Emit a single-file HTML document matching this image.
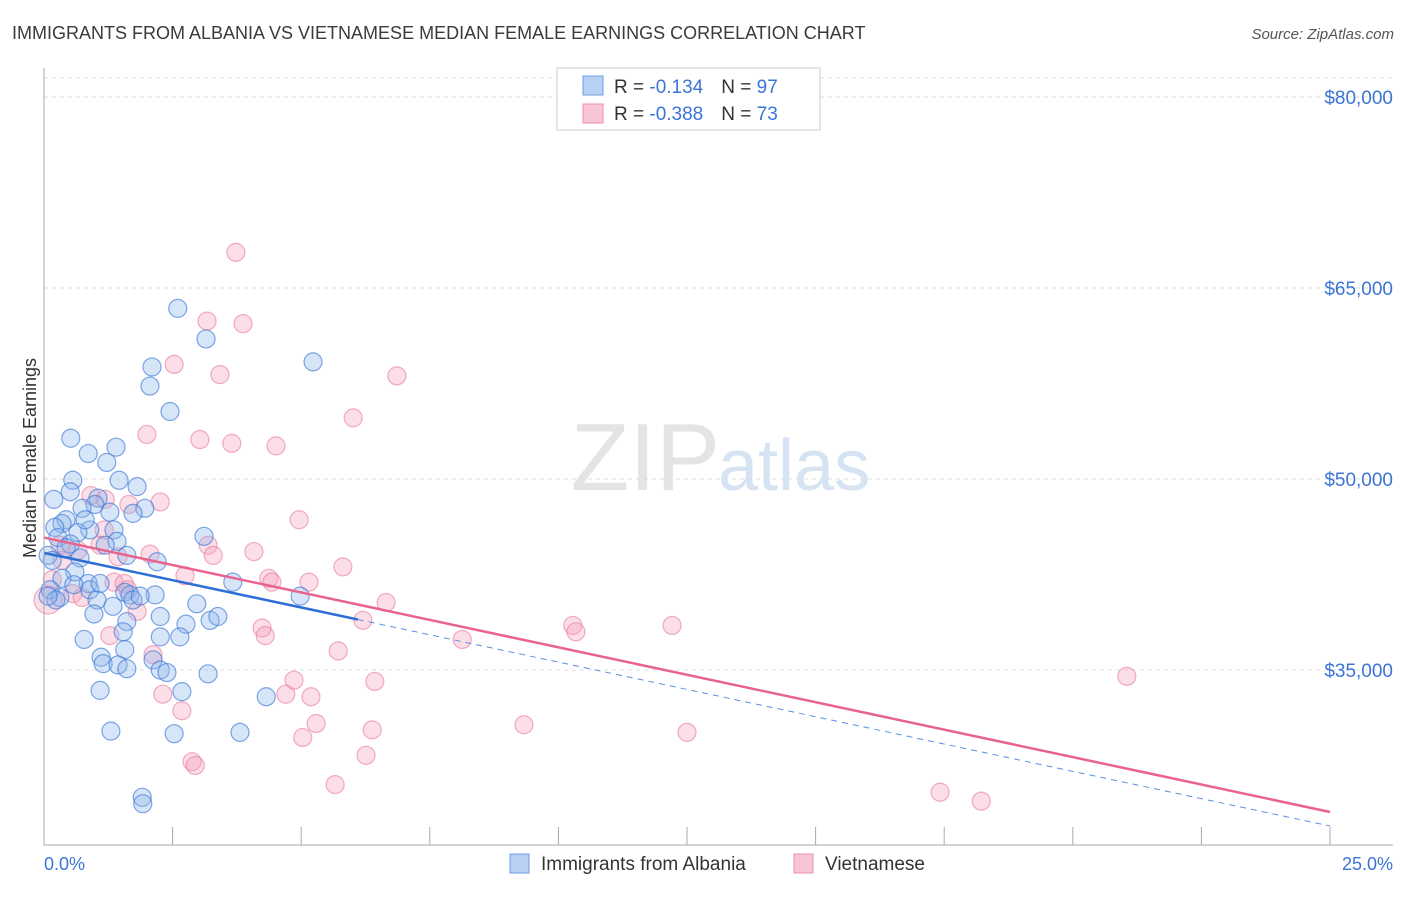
<!DOCTYPE html>
<html><head><meta charset="utf-8"><style>
body{margin:0;background:#fff;font-family:"Liberation Sans",sans-serif;}
svg text{font-family:"Liberation Sans",sans-serif;}
</style></head><body>
<svg id="c" width="1406" height="892" viewBox="0 0 1406 892" xmlns="http://www.w3.org/2000/svg">
<text x="12" y="39" font-size="18" fill="#3a3a3a">IMMIGRANTS FROM ALBANIA VS VIETNAMESE MEDIAN FEMALE EARNINGS CORRELATION CHART</text>
<text x="1394" y="39" font-size="15" fill="#555" font-style="italic" text-anchor="end">Source: ZipAtlas.com</text>
<text x="720" y="490" font-size="96" fill="#e4e4e4" text-anchor="end" font-family="Liberation Serif">ZIP</text>
<text x="718" y="490" font-size="72" fill="#d6e3f3">atlas</text>
<text x="36" y="458" font-size="18" fill="#333" text-anchor="middle" transform="rotate(-90 36 458)">Median Female Earnings</text>
<g id="grid"></g><g id="pts"></g><g id="lines"></g>
<line x1="44" y1="68" x2="44" y2="845" stroke="#aaa"/>
<line x1="44" y1="845" x2="1393" y2="845" stroke="#aaa"/>
<text x="44" y="870" font-size="18" fill="#3b74d6">0.0%</text>
<text x="1393" y="870" font-size="18" fill="#3b74d6" text-anchor="end">25.0%</text>
<g>
<rect x="557" y="68" width="263" height="62" fill="#fff" stroke="#ccc"/>
<rect x="583" y="76" width="20" height="19" fill="#b7d0f3" stroke="#6d9ee6"/>
<rect x="583" y="104" width="20" height="19" fill="#f8c5d4" stroke="#ee91ad"/>
<text x="614" y="93" font-size="19" fill="#333">R = <tspan fill="#3b74d6">-0.134</tspan><tspan dx="18">N = </tspan><tspan fill="#3b74d6">97</tspan></text>
<text x="614" y="120" font-size="19" fill="#333">R = <tspan fill="#3b74d6">-0.388</tspan><tspan dx="18">N = </tspan><tspan fill="#3b74d6">73</tspan></text>
</g>
<g>
<rect x="510" y="854" width="19" height="19" fill="#b7d0f3" stroke="#6d9ee6"/>
<text x="541" y="870" font-size="19" fill="#333">Immigrants from Albania</text>
<rect x="794" y="854" width="19" height="19" fill="#f8c5d4" stroke="#ee91ad"/>
<text x="825" y="870" font-size="19" fill="#333">Vietnamese</text>
</g>
</svg>
<script>
const yTicks=[35000,50000,65000,80000];
const yTickLabels=["$35,000","$50,000","$65,000","$80,000"];
const blueX=[2.60,3.15,5.23,2.10,2.06,2.45,0.52,1.40,0.86,1.22,0.56,1.46,1.81,0.19,0.51,1.05,0.99,1.96,1.73,0.74,1.28,0.43,0.35,0.21,0.89,0.66,1.36,0.27,0.51,3.11,1.42,0.08,0.16,0.70,1.61,2.20,0.60,0.35,0.86,0.89,0.12,0.31,1.03,1.57,1.67,2.16,3.67,4.98,2.97,1.34,0.97,2.26,3.23,3.38,2.76,1.61,1.54,0.78,2.26,2.64,1.11,1.57,2.12,1.15,1.44,1.61,2.26,2.39,3.19,1.09,2.68,4.32,1.30,2.53,3.81,1.91,1.92,0.23,0.08,0.43,1.09,1.19,1.73,1.87,0.80,0.58];
const blueY=[63.4,61.0,59.2,58.8,57.3,55.3,53.2,52.5,52.0,51.3,49.9,49.9,49.4,48.4,49.0,48.5,48.0,47.7,47.3,47.7,47.4,46.8,46.5,46.2,46.0,45.8,46.0,45.4,44.9,45.5,45.1,44.0,43.6,43.8,44.0,43.5,42.7,42.2,41.8,41.3,41.3,40.7,40.5,41.1,40.9,40.9,41.9,40.8,40.2,40.0,39.4,39.2,38.9,39.2,38.6,38.8,38.0,37.4,37.6,37.6,36.0,36.6,35.8,35.5,35.4,35.1,35.0,34.8,34.7,33.4,33.3,32.9,30.2,30.0,30.1,25.0,24.5,40.5,40.8,44.6,41.8,44.8,40.5,40.8,46.8,41.7];
const pinkX=[3.73,3.17,3.87,2.53,6.86,3.42,6.01,2.00,3.03,3.65,4.51,0.91,2.26,1.19,1.65,4.96,1.17,0.31,3.19,4.08,0.66,2.06,3.29,1.44,5.81,2.74,4.37,4.43,5.15,1.36,1.56,1.63,0.16,0.56,0.74,6.65,1.81,6.20,10.28,10.34,12.21,4.24,4.30,8.13,2.12,5.72,1.28,4.86,6.43,2.31,4.70,5.19,2.68,5.29,9.33,6.38,5.03,12.50,2.88,2.94,6.26,5.66,17.42,18.22,21.05,0.08,0.35,1.09];
const pinkY=[67.8,62.4,62.2,59.0,58.1,58.2,54.8,53.5,53.1,52.8,52.6,48.7,48.2,48.4,48.0,46.8,46.0,44.8,44.8,44.3,44.4,44.1,44.0,43.9,43.1,42.4,42.2,41.9,41.9,41.9,41.8,41.3,42.1,41.0,40.7,40.3,39.6,38.9,38.5,38.0,38.5,38.3,37.7,37.4,36.2,36.5,37.7,34.2,34.1,33.1,33.1,32.9,31.8,30.8,30.7,30.3,29.7,30.1,27.8,27.5,28.3,26.0,25.4,24.7,34.5,40.5,43.6,44.8];
const blueTrend=[44.2,22.75];
const pinkTrend=[45.4,23.85];
const blueSolidEnd=6.1;
const NS="http://www.w3.org/2000/svg";
const sx=v=>44+v*51.44;
const sy=k=>670-(k-35)*12.733;
function mk(t,a,p){const e=document.createElementNS(NS,t);for(const k in a)e.setAttribute(k,a[k]);p.appendChild(e);return e;}
const grid=document.getElementById('grid');
yTicks.forEach((v,i)=>{const y=sy(v/1000);
 const g=mk('line',{x1:44,x2:1393,y1:y,y2:y,stroke:'#ddd','stroke-dasharray':'4,4'},grid);
 
 
 const t=mk('text',{x:1393,y:y+7,'font-size':19,fill:'#3b74d6','text-anchor':'end'},grid);t.textContent=yTickLabels[i];
 
 
});
mk('line',{x1:44,x2:1393,y1:sy(80000/1000)-19,y2:sy(80000/1000)-19,stroke:'#ddd','stroke-dasharray':'4,4'},grid);
for(let i=1;i<=10;i++){const x=sx(i*2.5);
 const l=mk('line',{x1:x,x2:x,y1:827,y2:845,stroke:'#aaa'},grid);
 
 }
const pts=document.getElementById('pts');
pinkX.forEach((x,i)=>{const c=mk('circle',{cx:sx(x),cy:sy(pinkY[i]),r:i==65?14:9,fill:'rgba(244,160,186,0.35)',stroke:'rgba(234,120,155,0.6)','stroke-width':1.2},pts);
 
 });
blueX.forEach((x,i)=>{const c=mk('circle',{cx:sx(x),cy:sy(blueY[i]),r:9,fill:'rgba(140,180,235,0.35)',stroke:'rgba(60,120,215,0.65)','stroke-width':1.2},pts);
 
 });
const lines=document.getElementById('lines');
const bAt=x=>blueTrend[0]+(blueTrend[1]-blueTrend[0])*x/25;
let l1=mk('line',{x1:sx(0),y1:sy(blueTrend[0]),x2:sx(blueSolidEnd),y2:sy(bAt(blueSolidEnd)),stroke:'#2e6fd6','stroke-width':2.5},lines);


let l2=mk('line',{x1:sx(blueSolidEnd),y1:sy(bAt(blueSolidEnd)),x2:sx(25),y2:sy(blueTrend[1]),stroke:'#5b8fe0','stroke-width':1,'stroke-dasharray':'6,5'},lines);


let l3=mk('line',{x1:sx(0),y1:sy(pinkTrend[0]),x2:sx(25),y2:sy(pinkTrend[1]),stroke:'#e8648f','stroke-width':2.5},lines);


</script>
</body></html>
